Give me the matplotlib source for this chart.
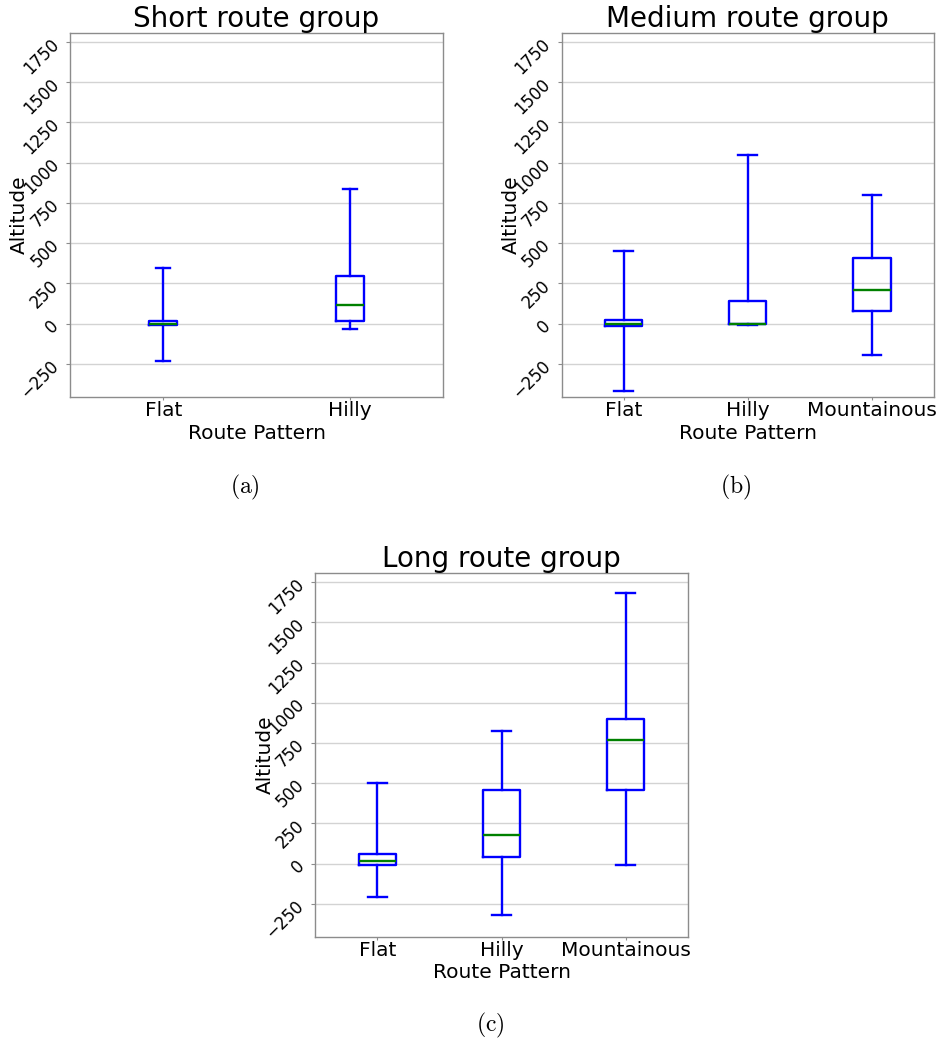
import matplotlib
matplotlib.use("Agg")
import matplotlib.pyplot as plt

plt.rcParams['mathtext.fontset'] = 'cm'

# ---- data ----
short_labels = ["Flat", "Hilly"]
short_whislo = [-230, -35]
short_q1 = [-6, 19]
short_med = [0, 114]
short_q3 = [14, 296]
short_whishi = [345, 837]

medium_labels = ["Flat", "Hilly", "Mountainous"]
medium_whislo = [-420, -8, -192]
medium_q1 = [-16, -3, 81]
medium_med = [0, 0, 209]
medium_q3 = [25, 138, 405]
medium_whishi = [449, 1048, 800]

long_labels = ["Flat", "Hilly", "Mountainous"]
long_whislo = [-209, -321, -8]
long_q1 = [-6, 41, 459]
long_med = [14, 176, 767]
long_q3 = [62, 457, 901]
long_whishi = [502, 827, 1683]

titles = ["Short route group", "Medium route group", "Long route group"]
captions = ["(a)", "(b)", "(c)"]
yticks = [-250, 0, 250, 500, 750, 1000, 1250, 1500, 1750]

fig = plt.figure(figsize=(9.36, 10.43), dpi=100)

axes_pos = [
    [0.0748, 0.6194, 0.3985, 0.349],
    [0.6000, 0.6194, 0.3978, 0.349],
    [0.3369, 0.1019, 0.3980, 0.3484],
]

groups = [
    (short_labels, short_whislo, short_q1, short_med, short_q3, short_whishi),
    (medium_labels, medium_whislo, medium_q1, medium_med, medium_q3, medium_whishi),
    (long_labels, long_whislo, long_q1, long_med, long_q3, long_whishi),
]

blue = '#0000ff'
green = '#008000'
spine_col = '#8c8c8c'

for i, (labels, wlo, q1, med, q3, whi) in enumerate(groups):
    ax = fig.add_axes(axes_pos[i])
    stats = []
    for j in range(len(labels)):
        stats.append(dict(label=labels[j], whislo=wlo[j], q1=q1[j], med=med[j],
                          q3=q3[j], whishi=whi[j], fliers=[]))
    ax.bxp(stats, showfliers=False,
           boxprops=dict(color=blue, linewidth=1.7),
           whiskerprops=dict(color=blue, linewidth=1.7),
           capprops=dict(color=blue, linewidth=1.7),
           medianprops=dict(color=green, linewidth=1.7))
    ax.set_ylim(-455, 1805)
    ax.set_yticks(yticks)
    ax.yaxis.grid(True, color='#d3d3d3', linewidth=1.0)
    ax.set_axisbelow(True)
    for s in ax.spines.values():
        s.set_color(spine_col)
        s.set_linewidth(1.0)
    ax.tick_params(axis='both', labelcolor='black', color=spine_col, width=0.8)
    ax.tick_params(axis='x', labelsize=14.5, length=2, pad=1)
    ax.tick_params(axis='y', labelsize=12, labelrotation=45, length=3, pad=2.5)
    ax.set_title(titles[i], fontsize=20, pad=-1)
    ax.set_xlabel("Route Pattern", fontsize=14.5, labelpad=2.5)
    ax.set_ylabel("Altitude", fontsize=14.5)
    ax.yaxis.set_label_coords(-0.11, 0.5)

fig.text(245 / 936, 1 - 487 / 1043, r'$\mathrm{(a)}$', ha='center', va='center', fontsize=17)
fig.text(736 / 936, 1 - 487 / 1043, r'$\mathrm{(b)}$', ha='center', va='center', fontsize=17)
fig.text(490 / 936, 1 - 1025 / 1043, r'$\mathrm{(c)}$', ha='center', va='center', fontsize=17)

fig.savefig("out.png", dpi=100)
